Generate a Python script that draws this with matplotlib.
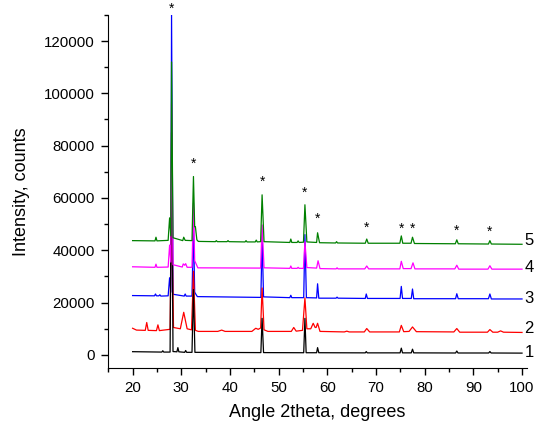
import matplotlib
matplotlib.use("Agg")
import matplotlib.pyplot as plt
from matplotlib.ticker import MultipleLocator

plt.rcParams['font.family'] = ['Liberation Sans', 'DejaVu Sans']

# ---- data (2theta in degrees, intensity in counts) ----
s1_angle = [20, 26.0, 26.2, 26.4, 27.7, 28.0, 28.3, 29.1, 29.3, 29.5, 30.7, 30.9, 31.1,
            32.2, 32.5, 32.8, 46.35, 46.6, 46.9, 55.15, 55.4, 55.65, 57.8, 58.0, 58.25,
            67.8, 68.0, 68.2, 74.95, 75.2, 75.45, 77.25, 77.5, 77.75, 86.35, 86.6, 86.85,
            93.15, 93.4, 93.65, 100]
s1_counts = [1250, 1100, 1600, 1100, 1100, 85000, 1300, 1200, 2800, 1200, 1000, 1700, 1000,
             1000, 25000, 1000, 900, 14000, 900, 850, 14000, 850, 850, 2800, 850,
             800, 1300, 800, 800, 2600, 800, 800, 2200, 800, 750, 1500, 750,
             750, 1300, 750, 700]

s2_angle = [20, 20.8, 22.6, 22.9, 23.2, 24.9, 25.2, 25.5, 27.7, 28.0, 28.4, 29.8, 30.5, 31.2,
            32.1, 32.5, 32.9, 33.5, 37.5, 38.3, 39.0, 44.5, 45.3, 45.8, 46.3, 46.6, 47.0, 47.8,
            52.6, 53.1, 53.6, 54.9, 55.4, 55.8, 56.6, 57.1, 57.5, 57.7, 58.0, 58.5,
            63.5, 64.0, 64.5, 67.6, 68.1, 68.7, 74.8, 75.2, 75.7, 76.8, 77.5, 78.3,
            86.0, 86.6, 87.2, 92.9, 93.4, 94.0, 95.0, 95.6, 96.2, 100]
s2_counts = [10200, 9500, 9400, 12400, 9400, 9300, 11500, 9300, 9800, 60000, 10500, 10000, 16300, 10000,
             9600, 32000, 9400, 9000, 9000, 9500, 9000, 9000, 10200, 9800, 10300, 25600, 9600, 9000,
             9000, 10500, 9100, 9400, 21800, 10000, 10000, 12100, 10500, 10500, 12100, 9000,
             8800, 9100, 8800, 8800, 10100, 8800, 8800, 11300, 8900, 9000, 10700, 8900,
             8800, 10100, 8700, 8700, 9700, 8700, 8700, 9200, 8700, 8600]

s3_angle = [20, 24.5, 24.7, 24.9, 25.4, 25.6, 25.8, 27.3, 27.6, 27.85, 28.0, 28.3, 30.6, 30.8, 31.0,
            32.2, 32.5, 32.75, 33.0, 33.3, 46.35, 46.6, 46.9, 52.3, 52.5, 52.7, 55.15, 55.4, 55.7,
            57.8, 58.0, 58.25, 61.8, 62.0, 62.2, 67.8, 68.0, 68.25, 74.95, 75.2, 75.45,
            77.25, 77.5, 77.75, 86.35, 86.6, 86.9, 93.1, 93.4, 93.7, 100]
s3_counts = [22700, 22600, 23300, 22600, 22600, 23000, 22500, 22600, 29500, 24000, 130000, 23200, 22500, 23300, 22500,
             22500, 50000, 24000, 23200, 22300, 22000, 45000, 22200, 21900, 22800, 21900, 21900, 46000, 21900,
             21800, 27200, 21700, 21700, 22100, 21700, 21600, 23300, 21600, 21600, 26200, 21600,
             21600, 25200, 21500, 21500, 23400, 21500, 21500, 23300, 21400, 21400]

s4_angle = [20, 24.6, 24.8, 25.0, 27.3, 27.6, 27.85, 28.0, 28.3, 30.2, 30.4, 30.7, 30.9, 31.2,
            32.2, 32.5, 32.75, 33.0, 33.4, 46.3, 46.6, 47.0, 52.3, 52.5, 52.7, 53.8, 54.0, 54.2,
            55.1, 55.4, 55.8, 57.8, 58.1, 58.5, 61.8, 62.0, 62.2, 67.7, 68.1, 68.5,
            74.9, 75.2, 75.6, 77.2, 77.6, 78.0, 86.2, 86.6, 87.0, 93.0, 93.4, 93.8, 100]
s4_counts = [33700, 33500, 34700, 33500, 33600, 42000, 35500, 96000, 34500, 33600, 34800, 34300, 34900, 33500,
             33500, 58000, 36000, 35000, 33300, 33200, 49700, 33300, 33100, 34000, 33100, 33100, 33500, 33100,
             33100, 43300, 33400, 33200, 36000, 33000, 32900, 33300, 32900, 32900, 34000, 32900,
             32900, 35800, 33000, 33000, 35200, 32900, 32900, 34300, 32800, 32800, 34100, 32800, 32800]

s5_angle = [20, 24.6, 24.8, 25.0, 27.3, 27.6, 27.85, 28.0, 28.3, 30.3, 30.5, 30.8,
            32.2, 32.5, 32.75, 32.9, 33.2, 33.5, 37.0, 37.2, 37.4, 39.4, 39.6, 39.8,
            43.1, 43.3, 43.5, 45.2, 45.4, 45.6, 46.3, 46.6, 47.0, 52.3, 52.5, 52.7,
            53.8, 54.0, 54.2, 55.1, 55.4, 55.8, 57.8, 58.0, 58.4, 61.7, 61.9, 62.1,
            67.8, 68.1, 68.4, 74.9, 75.2, 75.5, 77.2, 77.5, 77.9, 86.3, 86.6, 86.9,
            93.1, 93.4, 93.7, 100]
s5_counts = [43700, 43600, 45000, 43600, 43800, 52400, 45500, 112000, 44800, 43700, 45000, 43800,
             43700, 68200, 49000, 49000, 44000, 43400, 43300, 43700, 43300, 43300, 43700, 43300,
             43200, 43700, 43200, 43200, 43900, 43200, 43300, 61200, 43300, 43000, 44300, 43000,
             43000, 43600, 43000, 43100, 57400, 43200, 43000, 46700, 42900, 42800, 43300, 42800,
             42700, 44300, 42700, 42700, 45500, 42700, 42700, 45000, 42600, 42500, 44000, 42500,
             42400, 43700, 42400, 42300]

series_labels = ["1", "2", "3", "4", "5"]
label_counts = [900, 10300, 21400, 33300, 43600]

star_angle = [28.0, 32.5, 46.6, 55.4, 58.0, 68.0, 75.2, 77.5, 86.6, 93.4]
star_counts = [132300, 73000, 66200, 62000, 52000, 48600, 48200, 48200, 47400, 47000]

# ---- figure ----
fig = plt.figure(figsize=(5.36, 4.24), dpi=100)
ax = fig.add_axes([0.202, 0.132, 0.781, 0.833])

lw = 0.9
ax.plot(s3_angle, s3_counts, color='#0000ff', lw=lw, zorder=2)
ax.plot(s2_angle, s2_counts, color='#ff0000', lw=lw, zorder=3)
ax.plot(s1_angle, s1_counts, color='#000000', lw=lw, zorder=4)
ax.plot(s4_angle, s4_counts, color='#ff00ff', lw=lw, zorder=5)
ax.plot(s5_angle, s5_counts, color='#008000', lw=lw, zorder=6)

for a, c in zip(star_angle, star_counts):
    ax.text(a, c, "*", ha='center', va='center', fontsize=10, color='black',
            clip_on=False, zorder=7)

for lab, c in zip(series_labels, label_counts):
    ax.text(100.5, c, lab, ha='left', va='center', fontsize=12, color='black',
            clip_on=False)

ax.set_xlim(15, 101)
ax.set_ylim(-5000, 130000)
ax.spines['top'].set_visible(False)
ax.spines['right'].set_visible(False)
ax.xaxis.set_major_locator(MultipleLocator(10))
ax.xaxis.set_minor_locator(MultipleLocator(5))
ax.yaxis.set_major_locator(MultipleLocator(20000))
ax.yaxis.set_minor_locator(MultipleLocator(10000))
ax.set_xticks([20, 30, 40, 50, 60, 70, 80, 90, 100])
ax.tick_params(which='major', direction='out', length=5, width=1, labelsize=10.8, pad=4.5)
ax.tick_params(which='minor', direction='out', length=3, width=1)
ax.set_xlabel("Angle 2theta, degrees", fontsize=13, labelpad=6)
ax.set_ylabel("Intensity, counts", fontsize=13, labelpad=10)

fig.savefig("out.png", dpi=100)
